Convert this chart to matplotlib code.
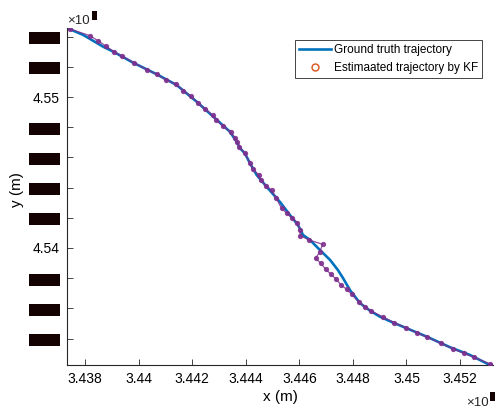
import numpy as np
import matplotlib
matplotlib.use('Agg')
import matplotlib.pyplot as plt
from matplotlib.lines import Line2D

plt.rcParams['font.family'] = ['Liberation Sans', 'DejaVu Sans']

# ground truth trajectory (UTM, m)
gt_x = [343733, 343794, 343868, 343906, 343980, 344068, 344142, 344217, 344279, 344341,
        344366, 344379, 344397, 344416, 344441, 344478, 344528, 344565, 344595, 344614,
        344640, 344677, 344715, 344744, 344763, 344789, 344827, 344864, 344901, 344951,
        345001, 345076, 345163, 345237, 345306, 345323]
gt_y = [4554570, 4554106, 4553331, 4553000, 4552272, 4551503, 4550795, 4549689, 4548695, 4547702,
        4547040, 4546602, 4546271, 4545609, 4544834, 4544059, 4543046, 4542185, 4541523, 4540860,
        4540529, 4539867, 4539205, 4538542, 4538012, 4537218, 4536337, 4535847, 4535449, 4535052,
        4534681, 4534125, 4533423, 4532913, 4532297, 4532250]

# Kalman filter estimate
kf_x = [343744, 343819, 343850, 343878, 343908, 343937, 343983, 344033, 344070, 344102,
        344140, 344167, 344195, 344223, 344248, 344277, 344289, 344314, 344344, 344360,
        344369, 344376, 344397, 344416, 344426, 344450, 344456, 344476, 344497, 344513,
        344534, 344553, 344574, 344593, 344603, 344603, 344637, 344687, 344677, 344661,
        344680, 344699, 344718, 344737, 344756, 344777, 344796, 344824, 344845, 344867,
        344911, 344954, 344998, 345038, 345078, 345128, 345173, 345215, 345252, 345312]
kf_y = [4554504, 4554060, 4553709, 4553378, 4553000, 4552715, 4552272, 4551788, 4551497, 4551126,
        4550861, 4550417, 4550066, 4549583, 4549205, 4548808, 4548477, 4548099, 4547662, 4547304,
        4547000, 4546708, 4546271, 4545609, 4545212, 4544834, 4544503, 4544106, 4543841, 4543311,
        4542629, 4542297, 4541966, 4541675, 4541191, 4540814, 4540529, 4540244, 4539754, 4539317,
        4538986, 4538589, 4538258, 4537946, 4537549, 4537264, 4536920, 4536403, 4536112, 4535827,
        4535449, 4535052, 4534721, 4534390, 4534085, 4533687, 4533330, 4533025, 4532760, 4532317]

x_ticks = [343800, 344000, 344200, 344400, 344600, 344800, 345000, 345200]
y_ticks = [4534000, 4536000, 4538000, 4540000, 4542000, 4544000, 4546000, 4548000,
           4550000, 4552000, 4554000]
y_readable = [4540000, 4550000]   # the only y labels that came out legible

fig = plt.figure(figsize=(4.95, 4.09), dpi=100)
ax = fig.add_axes([67 / 495, 44 / 409, 426 / 495, 337 / 409])

ax.plot(gt_x, gt_y, color='#0072BD', lw=1.9, zorder=2)
ax.plot(kf_x, kf_y, '-o', color='#7E2F8E', lw=0.9, ms=2.8, alpha=0.85, zorder=3)

ax.set_xlim(gt_x[0], gt_x[-1])
ax.set_ylim(gt_y[-1], gt_y[0])

ax.set_xticks(x_ticks)
ax.set_xticklabels(['{:g}'.format(v / 1e5) for v in x_ticks])
ax.set_yticks(y_ticks)
ax.set_yticklabels(['{:g}'.format(v / 1e6) for v in y_ticks])

ax.tick_params(direction='in', length=4, width=0.6, colors='#262626', labelsize=10,
               labelcolor='black', pad=5)
# the garbled labels show up as solid dark bars
for v, lab in zip(y_ticks, ax.get_yticklabels()):
    if v not in y_readable:
        lab.set_color('#140202')
        lab.set_fontsize(9)
        lab.set_bbox(dict(boxstyle='square,pad=0', fc='#140202', ec='none'))

ax.spines['top'].set_visible(False)
ax.spines['right'].set_visible(False)
for s in ['left', 'bottom']:
    ax.spines[s].set_color('#262626')
    ax.spines[s].set_linewidth(0.8)

ax.set_xlabel('x (m)', fontsize=11, labelpad=3)
ax.set_ylabel('y (m)', fontsize=11, labelpad=0)
ax.yaxis.set_label_coords(-0.10, 0.52)

# exponent labels, exponent glyph rendered as a dark box
fig.text(67 / 495, 1 - 24 / 409, '\u00d710', fontsize=9.5, color='#262626', va='baseline')
fig.text(92 / 495, 1 - 18 / 409, '6', fontsize=6.5, color='#140202', va='baseline',
         bbox=dict(boxstyle='square,pad=0', fc='#140202', ec='none'))
fig.text(466 / 495, 1 - 406 / 409, '\u00d710', fontsize=9.5, color='#262626', va='baseline')
fig.text(490 / 495, 1 - 399 / 409, '5', fontsize=6.5, color='#140202', va='baseline',
         bbox=dict(boxstyle='square,pad=0', fc='#140202', ec='none'))

handles = [Line2D([], [], color='#0072BD', lw=1.9),
           Line2D([], [], ls='none', marker='o', mfc='none', mec='#D95319', ms=5)]
leg = ax.legend(handles, ['Ground truth trajectory', 'Estimaated trajectory by KF'],
                loc='upper right', bbox_to_anchor=(482 / 495, 1 - 40 / 409),
                bbox_transform=fig.transFigure, fontsize=8.5, fancybox=False,
                framealpha=1, edgecolor='#262626', borderpad=0.35, handlelength=2.7,
                handletextpad=0.25, labelspacing=0.5, borderaxespad=0)
leg.get_frame().set_linewidth(0.6)

fig.savefig('out.png', dpi=100)
